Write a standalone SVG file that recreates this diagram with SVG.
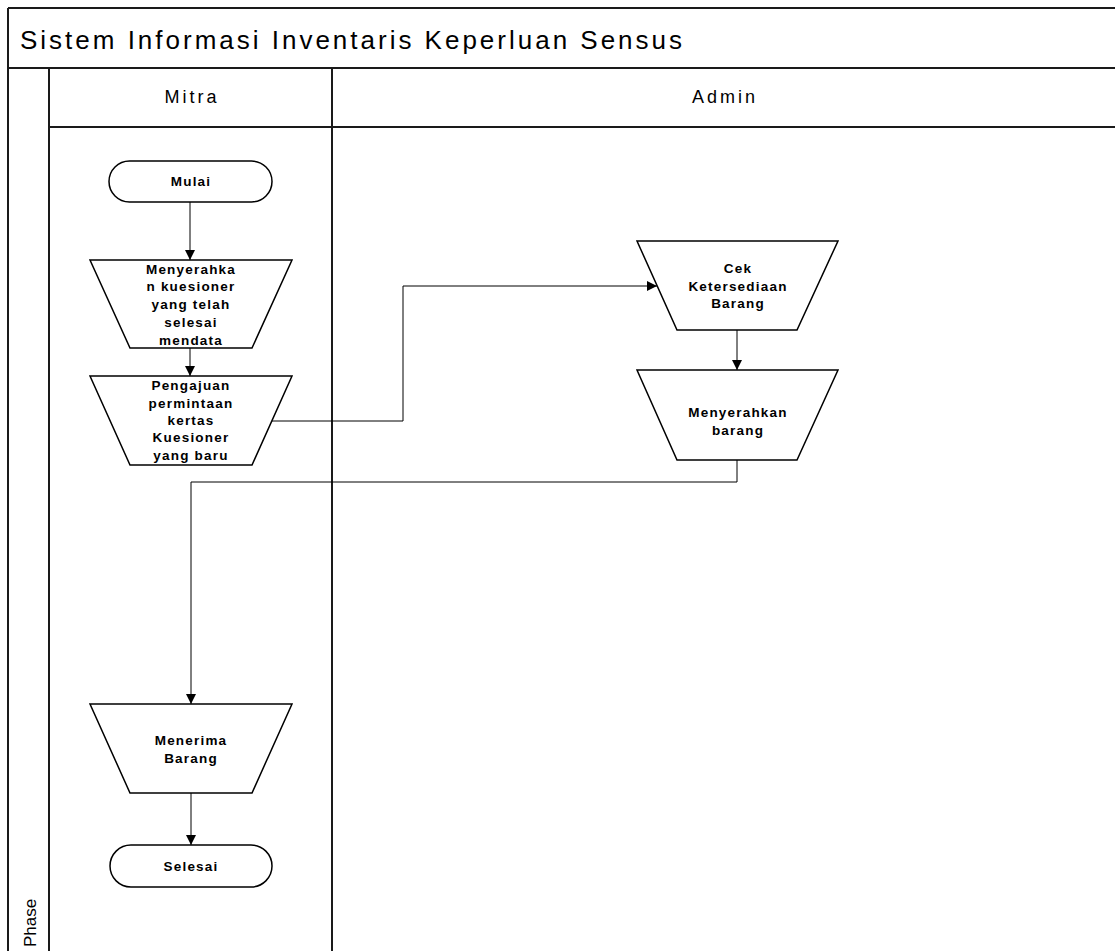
<svg xmlns="http://www.w3.org/2000/svg" width="1115" height="951" viewBox="0 0 1115 951">
  <style>
    .frame { stroke: #1a1a1a; stroke-width: 2; fill: none; }
    .shape { fill: #ffffff; stroke: #000000; stroke-width: 1.5; }
    .conn { fill: none; stroke: #000000; stroke-width: 1; }
    .lbl { font-family: "Liberation Sans", Arial, sans-serif; font-weight: bold; font-size: 13.5px; letter-spacing: 1.2px; text-anchor: middle; fill: #000; }
    .hdr { font-family: "Liberation Sans", Arial, sans-serif; font-size: 18px; letter-spacing: 3px; text-anchor: middle; fill: #000; }
    .title { font-family: "Liberation Sans", Arial, sans-serif; font-size: 26px; fill: #000; }
    .phase { font-family: "Liberation Sans", Arial, sans-serif; font-size: 17px; fill: #000; }
  </style>
  <defs>
    <marker id="arr" viewBox="0 0 10 10" refX="10" refY="5" markerWidth="10" markerHeight="10" markerUnits="userSpaceOnUse" orient="auto">
      <path d="M0,0 L10,5 L0,10 Z" fill="#000"/>
    </marker>
  </defs>
  <rect x="0" y="0" width="1115" height="951" fill="#ffffff"/>

  <g id="pool">
    <line class="frame" x1="8" y1="8" x2="1115" y2="8"/>
    <line class="frame" x1="8" y1="8" x2="8" y2="951"/>
    <line class="frame" x1="8" y1="68" x2="1115" y2="68"/>
    <line class="frame" x1="49" y1="127" x2="1115" y2="127"/>
    <line class="frame" x1="49" y1="68" x2="49" y2="951"/>
    <line class="frame" x1="332" y1="68" x2="332" y2="951"/>
    <text class="title" x="20" y="49" textLength="662" lengthAdjust="spacing">Sistem Informasi Inventaris Keperluan Sensus</text>
    <text class="hdr" x="192" y="103">Mitra</text>
    <text class="hdr" x="725" y="103">Admin</text>
    <text class="phase" transform="translate(36,947) rotate(-90)">Phase</text>
  </g>

  <g id="connectors">
    <line class="conn" x1="190" y1="202" x2="190" y2="260" marker-end="url(#arr)"/>
    <line class="conn" x1="190" y1="348" x2="190" y2="376" marker-end="url(#arr)"/>
    <polyline class="conn" points="272,421 403,421 403,286 657,286" marker-end="url(#arr)"/>
    <line class="conn" x1="737" y1="330" x2="737" y2="370" marker-end="url(#arr)"/>
    <polyline class="conn" points="737,460 737,482 191,482 191,704" marker-end="url(#arr)"/>
    <line class="conn" x1="191" y1="793" x2="191" y2="845" marker-end="url(#arr)"/>
  </g>

  <g id="mulai">
    <rect class="shape" x="109" y="161" width="163" height="41" rx="20.5" ry="20.5"/>
    <text class="lbl" x="191" y="186">Mulai</text>
  </g>

  <g id="menyerahkan-kuesioner">
    <path class="shape" d="M90,260 L292,260 L252,348 L130,348 Z"/>
    <text class="lbl" x="191" y="274">Menyerahka</text>
    <text class="lbl" x="191" y="291">n kuesioner</text>
    <text class="lbl" x="191" y="309">yang telah</text>
    <text class="lbl" x="191" y="327">selesai</text>
    <text class="lbl" x="191" y="345">mendata</text>
  </g>

  <g id="pengajuan">
    <path class="shape" d="M90,376 L292,376 L252,465 L130,465 Z"/>
    <text class="lbl" x="191" y="390">Pengajuan</text>
    <text class="lbl" x="191" y="408">permintaan</text>
    <text class="lbl" x="191" y="425">kertas</text>
    <text class="lbl" x="191" y="442">Kuesioner</text>
    <text class="lbl" x="191" y="460">yang baru</text>
  </g>

  <g id="cek">
    <path class="shape" d="M637,241 L838,241 L797,330 L677,330 Z"/>
    <text class="lbl" x="738" y="273">Cek</text>
    <text class="lbl" x="738" y="291">Ketersediaan</text>
    <text class="lbl" x="738" y="308">Barang</text>
  </g>

  <g id="menyerahkan-barang">
    <path class="shape" d="M637,370 L838,370 L797,460 L677,460 Z"/>
    <text class="lbl" x="738" y="417">Menyerahkan</text>
    <text class="lbl" x="738" y="435">barang</text>
  </g>

  <g id="menerima">
    <path class="shape" d="M90,704 L292,704 L252,793 L130,793 Z"/>
    <text class="lbl" x="191" y="745">Menerima</text>
    <text class="lbl" x="191" y="763">Barang</text>
  </g>

  <g id="selesai">
    <rect class="shape" x="110" y="845" width="162" height="42" rx="21" ry="21"/>
    <text class="lbl" x="191" y="871">Selesai</text>
  </g>
</svg>
